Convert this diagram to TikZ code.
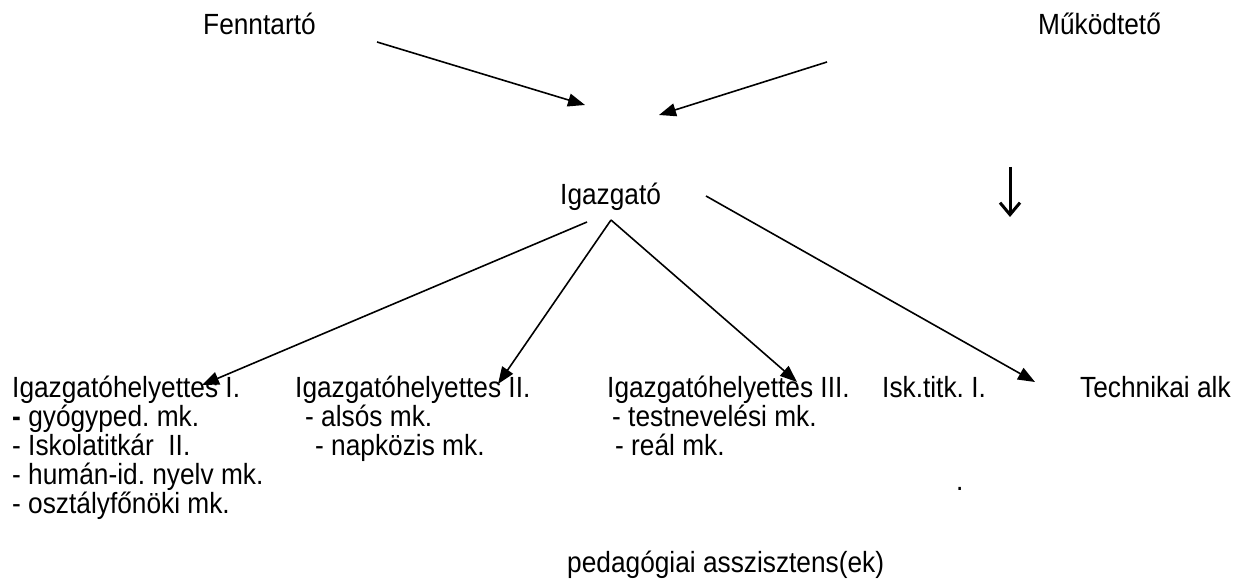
\documentclass[tikz,border=0pt]{standalone}
\usepackage{fontspec}
\setmainfont{Liberation Sans}[FakeStretch=0.9]
\usetikzlibrary{arrows.meta}
\newcommand{\lbl}{\fontsize{29.2}{32}\selectfont\frenchspacing}

\begin{document}
\begin{tikzpicture}
  [x=1pt,y=-1pt,every node/.style={anchor=base west,inner sep=0pt,font=\lbl},
   arr/.style={line width=1.6pt,-{Triangle[length=17pt,width=13pt]}}]
  \useasboundingbox (0,0) rectangle (1244,585);

  \node (fenn) at (203,35) {Fenntartó};
  \node (mukod) at (1038,35) {Működtető};
  \node (igaz) at (560,205) {Igazgató};

  \node (ih1) at (12,397) {Igazgatóhelyettes I.};
  \node (ih1a) at (12,426) {\textbf{-} gyógyped. mk.};
  \node (ih1b) at (12,455) {- Iskolatitkár\ \ II.};
  \node (ih1c) at (12,484) {- humán-id. nyelv mk.};
  \node (ih1d) at (12,513) {- osztályfőnöki mk.};

  \node (ih2) at (295,397) {Igazgatóhelyettes II.};
  \node (ih2a) at (305,426) {- alsós mk.};
  \node (ih2b) at (315,455) {- napközis mk.};

  \node (ih3) at (607,397) {Igazgatóhelyettes III.};
  \node (ih3a) at (612,426) {- testnevelési mk.};
  \node (ih3b) at (615,455) {- reál mk.};

  \node (titk) at (882,397) {Isk.titk. I.};
  \node (tech) at (1080,397) {Technikai alk};
  \node (pont) at (956,490) {.};
  \node (pedas) at (567,572) {pedagógiai asszisztens(ek)};

  \coordinate (f1) at (377,42);
  \coordinate (f2) at (585,105);
  \coordinate (m1) at (827,62);
  \coordinate (m2) at (659,115);
  \coordinate (g1) at (587,222);
  \coordinate (g2) at (611,220);
  \coordinate (g3) at (706,196);
  \coordinate (t1) at (202,385);
  \coordinate (t2) at (498,384);
  \coordinate (t3) at (797,382);
  \coordinate (t4) at (1035,382);
  \coordinate (d1) at (1010,167);
  \coordinate (d2) at (1010,217);

  \foreach \from/\to in {f1/f2, m1/m2, g1/t1, g2/t2, g2/t3, g3/t4}
    \draw[arr] (\from) -- (\to);
  \draw[line width=3pt,-{Straight Barb[length=12pt,width=20pt]}] (d1) -- (d2);

\end{tikzpicture}
\end{document}
